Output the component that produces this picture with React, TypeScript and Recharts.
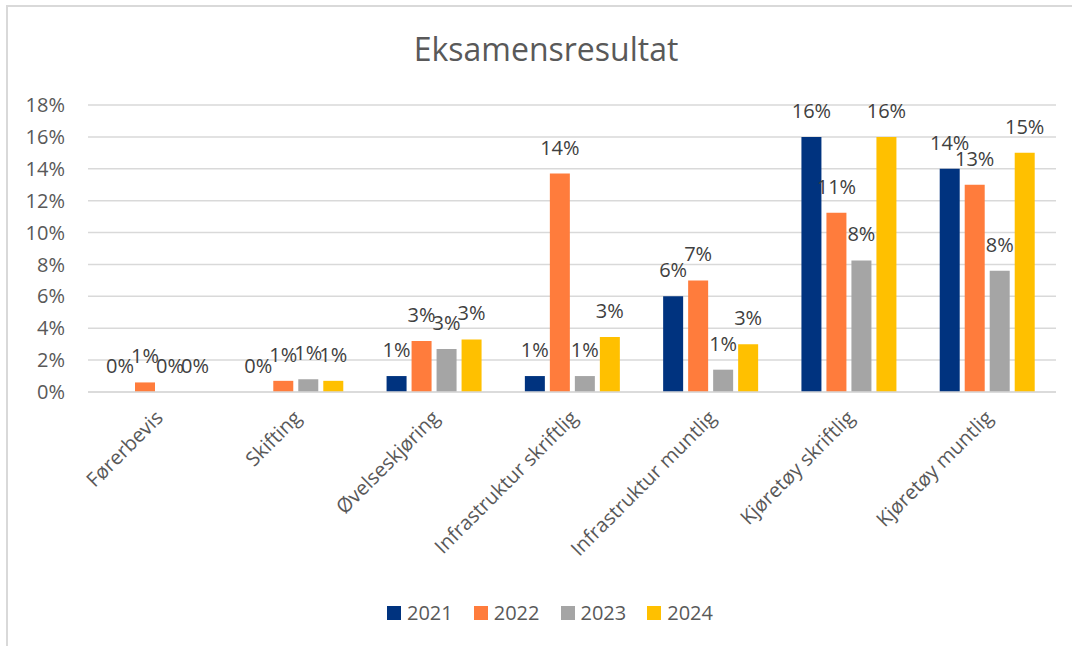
import React from 'react';
import { BarChart, Bar, XAxis, YAxis, CartesianGrid, Legend, LabelList } from 'recharts';

const categories = [
  'Førerbevis',
  'Skifting',
  'Øvelseskjøring',
  'Infrastruktur skriftlig',
  'Infrastruktur muntlig',
  'Kjøretøy skriftlig',
  'Kjøretøy muntlig',
];
const years = ['2021', '2022', '2023', '2024'];
const v2021 = [0, 0, 1.0, 1.0, 6.0, 16.0, 14.0];
const v2022 = [0.6, 0.7, 3.2, 13.7, 7.0, 11.25, 13.0];
const v2023 = [0, 0.8, 2.7, 1.0, 1.4, 8.25, 7.6];
const v2024 = [0, 0.7, 3.3, 3.45, 3.0, 16.0, 15.0];
const yTicks = [0, 2, 4, 6, 8, 10, 12, 14, 16, 18];
const colors = ['#00337F', '#FF7C3C', '#A5A5A5', '#FFC000'];

const seriesValues = [v2021, v2022, v2023, v2024];
const data = categories.map((c, i) => {
  const row: Record<string, any> = { name: c };
  years.forEach((y, k) => {
    row[y] = seriesValues[k][i];
  });
  return row;
});

const FONT = '"Open Sans", sans-serif';

const XTick = (props: any) => {
  const { x, y, payload } = props;
  const ax = x + 7;
  const ay = y + 27;
  return (
    <text
      x={ax}
      y={ay}
      transform={`rotate(-45, ${ax}, ${ay})`}
      textAnchor="end"
      fill="#595959"
      fontSize={20}
      fontFamily={FONT}
    >
      {payload.value}
    </text>
  );
};

const LegendContent = () => (
  <div
    style={{
      display: 'flex',
      justifyContent: 'center',
      alignItems: 'center',
      fontFamily: FONT,
      fontSize: 20,
      color: '#595959',
    }}
  >
    {years.map((y, k) => (
      <div
        key={y}
        style={{ display: 'flex', alignItems: 'center', marginRight: k < years.length - 1 ? 21 : 0 }}
      >
        <span style={{ display: 'inline-block', width: 14, height: 14, background: colors[k], marginRight: 6 }} />
        <span>{y}</span>
      </div>
    ))}
  </div>
);

const BarLabel = (props: any) => {
  const { x, y, width, value } = props;
  if (value == null) return null;
  return (
    <text
      x={Number(x) + Number(width) / 2}
      y={Number(y) - 19}
      textAnchor="middle"
      fill="#404040"
      fontSize={20}
      fontFamily={FONT}
    >
      {`${Math.round(Number(value))}%`}
    </text>
  );
};

export default function App() {
  return (
    <div
      style={{
        position: 'absolute',
        left: 0,
        top: 0,
        width: 1072,
        height: 646,
        background: '#ffffff',
        overflow: 'hidden',
        fontFamily: FONT,
      }}
    >
      <div
        style={{
          position: 'absolute',
          left: 6,
          top: 5,
          width: 1200,
          height: 800,
          border: '2px solid #d9d9d9',
          boxSizing: 'border-box',
        }}
      />
      <div
        style={{
          position: 'absolute',
          left: 0,
          top: 27,
          width: 1092,
          textAlign: 'center',
          fontSize: 32,
          color: '#595959',
          fontFamily: FONT,
        }}
      >
        Eksamensresultat
      </div>
      <div style={{ position: 'absolute', left: 0, top: 0 }}>
        <BarChart
          width={1072}
          height={646}
          data={data}
          margin={{ top: 105, right: 16, bottom: 0, left: 0 }}
          barSize={20}
          barGap={5}
        >
          <CartesianGrid vertical={false} stroke="#d9d9d9" strokeWidth={1.5} />
          <XAxis
            dataKey="name"
            height={254}
            interval={0}
            tickLine={false}
            tickSize={0}
            tickMargin={0}
            axisLine={{ stroke: '#d9d9d9', strokeWidth: 1.5 }}
            tick={<XTick />}
          />
          <YAxis
            width={88}
            domain={[0, 18]}
            ticks={yTicks}
            axisLine={false}
            tickLine={false}
            tickSize={0}
            tickMargin={23}
            tickFormatter={(v: number) => `${v}%`}
            tick={{ fill: '#595959', fontSize: 20, fontFamily: FONT }}
          />
          <Legend
            layout="horizontal"
            verticalAlign="middle"
            align="center"
            content={<LegendContent />}
            wrapperStyle={{ top: 599, left: 0, width: 1100, height: 28 }}
          />
          {years.map((y, k) => (
            <Bar key={y} dataKey={y} fill={colors[k]} minPointSize={0.01} isAnimationActive={false}>
              <LabelList dataKey={y} content={<BarLabel />} />
            </Bar>
          ))}
        </BarChart>
      </div>
    </div>
  );
}
